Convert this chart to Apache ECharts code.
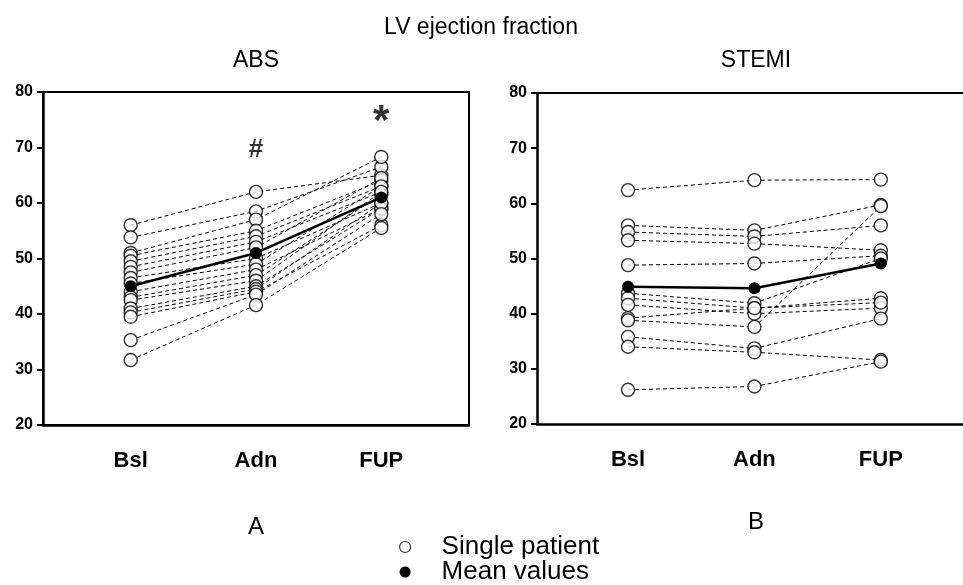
<!DOCTYPE html>
<html>
<head>
<meta charset="utf-8">
<script src="https://cdn.jsdelivr.net/npm/echarts@6/dist/echarts.min.js"></script>
<style>html,body{margin:0;padding:0;background:#fff;}#c{width:963px;height:585px;}</style>
</head>
<body>
<div id="c"></div>
<script>
const categories = ['Bsl', 'Adn', 'FUP'];
const panelTitles = ['ABS', 'STEMI'];
const panelLetters = ['A', 'B'];

// Panel A (ABS): single patients
const absBsl = [56, 53.8, 51, 50.5, 49.5, 48.5, 47.5, 46.5, 45.5, 44, 43, 42.5, 41, 40.3, 39.5, 35.3, 31.7];
const absAdn = [62, 58.5, 57, 55, 54, 53, 52, 50, 49, 48, 47, 46, 45, 44.5, 44, 43.5, 41.6];
const absFup = [65, 66.5, 68.3, 64, 63, 62, 64.5, 60, 63, 59, 61.5, 62, 59, 60, 56, 58, 55.5];
const absMean = [45, 51, 61];

// Panel B (STEMI): single patients
const stemiBsl = [62.4, 56, 54.8, 53.3, 48.8, 43.7, 42.8, 41.6, 39.2, 38.8, 35.8, 34, 26.2];
const stemiAdn = [64.2, 55.1, 54, 52.7, 49.1, 41.9, 41, 40, 41, 37.6, 33.7, 33, 26.8];
const stemiFup = [64.3, 59.7, 56, 51.5, 50.5, 50, 42.8, 41, 42, 59.5, 39.1, 31.6, 31.3];
const stemiMean = [44.9, 44.6, 49.1];

// significance marks (panel A)
const marks = [{ cat: 1, value: 69.5, text: '#' }, { cat: 2, value: 74.5, text: '*' }];

const FONT = 'Liberation Sans, Arial, Helvetica, sans-serif';
const chart = echarts.init(document.getElementById('c'), null, { renderer: 'canvas' });

const panels = [
  { bsl: absBsl, adn: absAdn, fup: absFup, mean: absMean },
  { bsl: stemiBsl, adn: stemiAdn, fup: stemiFup, mean: stemiMean }
];

const series = [];
panels.forEach((p, k) => {
  const pts = [];
  p.bsl.forEach((b, i) => {
    const row = [[0, b], [1, p.adn[i]], [2, p.fup[i]]];
    series.push({
      type: 'line', xAxisIndex: k, yAxisIndex: k, data: row,
      showSymbol: false, silent: true, z: 2,
      lineStyle: { color: '#000', width: 1, type: [4, 3] }
    });
    row.forEach(r => pts.push(r));
  });
  series.push({
    name: 'Single patient', type: 'scatter', xAxisIndex: k, yAxisIndex: k,
    data: pts, symbol: 'circle', symbolSize: 13, z: 3, silent: true,
    itemStyle: { color: '#fff', borderColor: '#000', borderWidth: 1.4 }
  });
  series.push({
    name: 'Mean values', type: 'line', xAxisIndex: k, yAxisIndex: k,
    data: p.mean.map((v, j) => [j, v]), symbol: 'circle', symbolSize: 12, z: 4, silent: true,
    itemStyle: { color: '#000' }, lineStyle: { color: '#000', width: 2.5 }
  });
});
series.push({
  type: 'scatter', xAxisIndex: 0, yAxisIndex: 0, symbolSize: 0, silent: true, z: 5,
  data: marks.map(m => ({ value: [m.cat, m.value], label: { formatter: m.text, fontSize: m.text === '*' ? 42 : 26 } })),
  label: { show: true, position: 'inside', color: '#000', fontWeight: 'bold', fontFamily: FONT }
});

const grids = [
  { left: 43, top: 92, width: 426, height: 333, show: true },
  { left: 537, top: 93, width: 426, height: 331, show: false }
];
const xRanges = [[-0.7, 2.7], [-0.72, 2.65]];

const xAxes = grids.map((g, k) => ({
  type: 'value', gridIndex: k, min: xRanges[k][0], max: xRanges[k][1],
  splitLine: { show: false }, axisTick: { show: false },
  axisLine: { show: true, onZero: false, lineStyle: { color: '#000', width: 2.5 } },
  axisLabel: {
    customValues: [0, 1, 2], formatter: v => categories[Math.round(v)],
    color: '#000', fontWeight: 'bold', fontSize: 22, fontFamily: FONT, margin: 25
  }
}));
// top frame line of panel B (its right edge lies outside the picture)
xAxes.push({
  type: 'value', gridIndex: 1, position: 'top', min: xRanges[1][0], max: xRanges[1][1],
  splitLine: { show: false }, axisTick: { show: false }, axisLabel: { show: false },
  axisLine: { show: true, onZero: false, lineStyle: { color: '#000', width: 2 } }
});
const yAxes = grids.map((g, k) => ({
  type: 'value', gridIndex: k, min: 20, max: 80, interval: 10,
  splitLine: { show: false },
  axisTick: { show: true, length: 6, lineStyle: { color: '#000', width: 2 } },
  axisLine: { show: true, onZero: false, lineStyle: { color: '#000', width: 2.5 } },
  axisLabel: { color: '#000', fontWeight: 'bold', fontSize: 16, fontFamily: FONT, margin: 10 }
}));

const txt = (x, y, s, size, extra) => ({
  type: 'text', x: x, y: y, silent: true,
  style: Object.assign({ text: s, fill: '#000', font: size + 'px ' + FONT, textAlign: 'center', textVerticalAlign: 'middle' }, extra || {})
});

chart.setOption({
  animation: false,
  backgroundColor: '#fff',
  grid: grids.map(g => Object.assign({ borderColor: '#000', borderWidth: 2, backgroundColor: 'transparent' }, g)),
  xAxis: xAxes,
  yAxis: yAxes,
  series: series,
  legend: {
    orient: 'vertical', left: 399, top: 534, height: 80, padding: 0, itemGap: -1, itemWidth: 11, itemHeight: 12,
    selectedMode: false,
    textStyle: { fontSize: 26, fontFamily: FONT, color: '#000', lineHeight: 20, padding: [0, 0, 0, 26] },
    data: [
      { name: 'Single patient', icon: 'circle', itemStyle: { color: '#fff', borderColor: '#000', borderWidth: 1.2 } },
      { name: 'Mean values', icon: 'circle', itemStyle: { color: '#000', borderWidth: 0 } }
    ]
  },
  graphic: [
    txt(481, 28, 'LV ejection fraction', 23),
    txt(256, 61, panelTitles[0], 23),
    txt(756, 61, panelTitles[1], 23),
    txt(256, 527, panelLetters[0], 24),
    txt(756, 522, panelLetters[1], 24)
  ]
});
</script>
</body>
</html>
